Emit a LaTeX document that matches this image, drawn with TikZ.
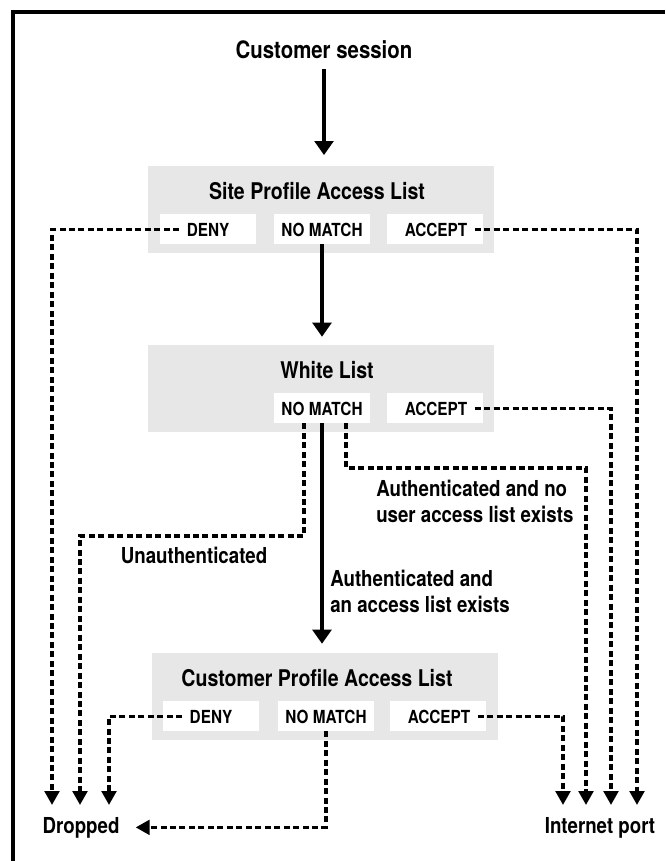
\documentclass[tikz,border=0pt]{standalone}
\usepackage{fontspec}
\setmainfont{TeX Gyre Heros}[FakeStretch=0.85]
\usetikzlibrary{arrows.meta}

\definecolor{listgray}{HTML}{E6E7E6}

\tikzset{
	listbox/.style={fill=listgray, inner sep=0pt, minimum width=259.5pt, minimum height=65.25pt},
	optbox/.style={fill=white, inner sep=0pt, minimum width=72pt, minimum height=22.5pt},
	choicetext/.style={font=\fontsize{13.5}{16}\selectfont\bfseries, inner xsep=5.5pt, inner ysep=1pt},
	listtitle/.style={font=\fontsize{17.25}{19.5}\selectfont\bfseries, inner sep=0pt},
	lbl/.style={font=\fontsize{16.5}{19.5}\selectfont\bfseries, inner sep=0pt, align=left},
	flow/.style={line width=2.5pt, -{Triangle[width=14pt, length=10.5pt]}},
	dashflow/.style={line width=2.4pt, dash pattern=on 4.5pt off 2.6pt, -{Triangle[width=11pt, length=10.5pt]}},
	hv/.style={to path={-| (\tikztotarget)}},
	vh/.style={to path={|- (\tikztotarget)}},
	vhv/.style={to path={|- (#1) -- (\tikztotarget)}}
}

\begin{document}
\begin{tikzpicture}[x=0.75pt, y=-0.75pt]

	\useasboundingbox (0, 0) rectangle (665, 861);
	\draw[line width=2.4pt] (665, 12) -| (13, 861);

	\node (session) [listtitle, font=\fontsize{18}{20}\selectfont\bfseries, anchor=base] at (324, 58) {Customer session};

	% site profile access list
	\node (site) [listbox] at (321, 209.5) {};
	\node (siteTitle) [listtitle, anchor=base] at (317, 199) {Site Profile Access List};
	\node (siteDenyBox) [optbox] at (208, 229) {};
	\node (siteNoMatchBox) [optbox] at (322, 229) {};
	\node (siteAcceptBox) [optbox] at (435, 229) {};
	\node (siteDeny) [choicetext, anchor=base] at (208, 236) {DENY};
	\node (siteNoMatch) [choicetext, anchor=base] at (322, 236) {NO MATCH};
	\node (siteAccept) [choicetext, anchor=base] at (436, 236) {ACCEPT};

	% white list
	\node (wl) [listbox] at (321, 388.5) {};
	\node (wlTitle) [listtitle, anchor=base] at (327, 378) {White List};
	\node (wlNoMatchBox) [optbox] at (322, 408) {};
	\node (wlAcceptBox) [optbox] at (435, 408) {};
	\node (wlNoMatch) [choicetext, anchor=base] at (322, 415) {NO MATCH};
	\node (wlAccept) [choicetext, anchor=base] at (436, 415) {ACCEPT};

	% customer profile access list
	\node (cp) [listbox] at (324.5, 696.5) {};
	\node (cpTitle) [listtitle, anchor=base] at (317, 686) {Customer Profile Access List};
	\node (cpDenyBox) [optbox] at (211, 716) {};
	\node (cpNoMatchBox) [optbox] at (326, 716) {};
	\node (cpAcceptBox) [optbox] at (438, 716) {};
	\node (cpDeny) [choicetext, anchor=base] at (211, 723) {DENY};
	\node (cpNoMatch) [choicetext, anchor=base] at (326, 723) {NO MATCH};
	\node (cpAccept) [choicetext, anchor=base] at (439, 723) {ACCEPT};

	% end points
	\node (dropped) [lbl, anchor=base] at (81, 833) {Dropped};
	\node (inet) [lbl, anchor=base] at (600, 833) {Internet port};
	\coordinate (dropA) at (52, 805);
	\coordinate (dropB) at (80, 805);
	\coordinate (dropC) at (109, 805);
	\coordinate (inetA) at (563, 805);
	\coordinate (inetB) at (586, 805);
	\coordinate (inetC) at (611, 805);
	\coordinate (inetD) at (637, 805);
	\coordinate (unauthTurn) at (80, 536);
	\coordinate (authTurn) at (586, 468);
	\coordinate (wlOutL) at ([xshift=-13.5pt]wlNoMatchBox.south);
	\coordinate (wlOutR) at ([xshift=18pt]wlNoMatchBox.south);

	% branch labels
	\node (unauth) [lbl, anchor=base] at (194, 563) {Unauthenticated};
	\node (authNoList) [lbl, anchor=base west] at (376, 522) {Authenticated and no\\user access list exists};
	\node (authList) [lbl, anchor=base west] at (330, 612) {Authenticated and\\an access list exists};

	\path[flow]
	(session.south) edge[shorten <=7.5pt, shorten >=8pt] (session.south |- site.north)
	(siteNoMatchBox.south) edge[shorten >=6pt] (siteNoMatchBox.south |- wl.north)
	(wlNoMatchBox.south) edge[shorten >=6.75pt] (wlNoMatchBox.south |- cp.north);

	\path[dashflow]
	(siteDeny) edge[hv] (dropA)
	(siteAccept) edge[hv] (inetD)
	(wlAccept) edge[hv] (inetC)
	(wlOutL) edge[vhv=unauthTurn] (dropB)
	(wlOutR) edge[vhv=authTurn] (inetB)
	(cpDeny) edge[hv] (dropC)
	(cpAccept) edge[hv] (inetA)
	(cpNoMatchBox.south) edge[vh, shorten >=12pt] (dropped.east);

\end{tikzpicture}
\end{document}
